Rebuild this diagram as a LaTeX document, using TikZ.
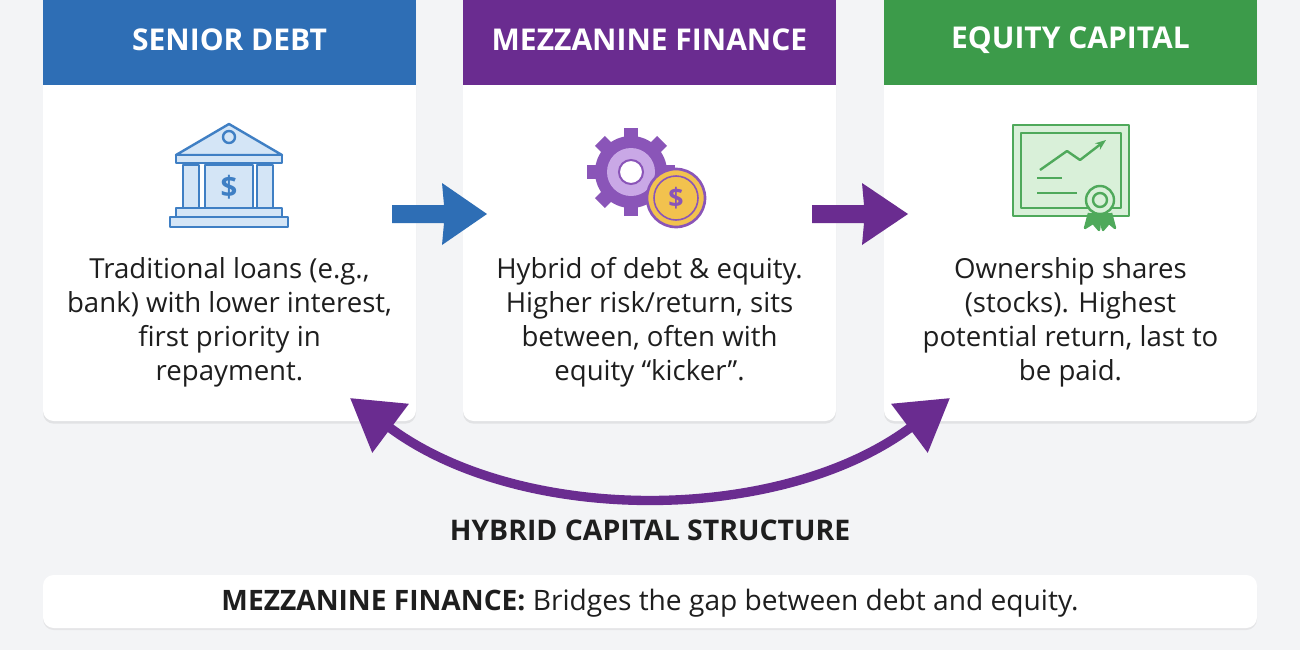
\documentclass[tikz,border=0pt]{standalone}
\usepackage{fontspec}
\setmainfont{Open Sans}
\usetikzlibrary{arrows.meta,shadows,calc}
\definecolor{bg}{HTML}{F3F4F6}
\definecolor{cblue}{HTML}{2E6EB5}
\definecolor{cpurple}{HTML}{6A2C90}
\definecolor{cgreen}{HTML}{3C9B4A}
\definecolor{iblue}{HTML}{3F7FC4}
\definecolor{ilblue}{HTML}{D4E5F6}
\definecolor{ipurple}{HTML}{8A55B8}
\definecolor{ilpur}{HTML}{C9A8E6}
\definecolor{igold}{HTML}{F2C24E}
\definecolor{igreen}{HTML}{4FA95B}
\definecolor{ilgreen}{HTML}{D9F0D9}
\definecolor{txt}{HTML}{1E1E1E}
\tikzset{
 card/.style={fill=white,rounded corners=8pt,drop shadow={opacity=0.15,shadow xshift=0pt,shadow yshift=-2pt}},
 head/.style={text=white,font=\bfseries\fontsize{22.5}{26}\selectfont},
 body/.style={text=txt,align=center,font=\fontsize{20.7}{25.5}\selectfont},
}
\begin{document}
\begin{tikzpicture}[x=0.75pt,y=-0.75pt]
\fill[bg] (0,0) rectangle (1300,650);
\useasboundingbox (0,0) rectangle (1300,650);
% cards
\foreach \x/\c/\n in {43/cblue/a,463/cpurple/b,884/cgreen/c}{
 \fill[card] (\x,-10) rectangle (\x+373,421);
 \fill[\c] (\x,-10) rectangle (\x+373,85);
}
\node[head] (ha) at (229.5,40) {SENIOR DEBT};
\node[head] (hb) at (649.5,40) {MEZZANINE FINANCE};
\node[head] (hc) at (1070.5,40) {EQUITY CAPITAL};
\node[body] (ta) at (229.5,322) {Traditional loans (e.g.,\\bank) with lower interest,\\first priority in\\repayment.};
\node[body] (tb) at (649.5,322) {Hybrid of debt \& equity.\\Higher risk/return, sits\\between, often with\\equity “kicker”.};
\node[body] (tc) at (1070.5,322) {Ownership shares\\(stocks). Highest\\potential return, last to\\be paid.};
% bank icon
\begin{scope}[draw=iblue,line width=1.8pt,line join=round]
 \filldraw[fill=ilblue] (176,155) -- (229,124) -- (282,155) -- cycle;
 \filldraw[fill=ilblue] (229,137) circle (6);
 \filldraw[fill=ilblue] (176,155) rectangle (282,163);
 \foreach \px in {183,257}{\filldraw[fill=ilblue] (\px,165) rectangle (\px+16,208);}
 \filldraw[fill=ilblue] (205,165) rectangle (253,208);
 \filldraw[fill=ilblue] (176,208) rectangle (282,217);
 \filldraw[fill=ilblue] (170,217) rectangle (288,227);
\end{scope}
\node[text=iblue,font=\bfseries\fontsize{22}{22}\selectfont] (da) at (229,187) {\$};
% gears icon
\begin{scope}
 \fill[ipurple] (631,172) circle (36);
 \foreach \a in {0,45,...,315}{\fill[ipurple,rotate around={\a:(631,172)}] (624,128) rectangle (638,142);}
 \fill[ilpur] (631,172) circle (24);
 \filldraw[draw=ipurple,fill=white,line width=1.5pt] (631,172) circle (12);
 \filldraw[draw=ipurple,fill=igold,line width=2pt] (676,198) circle (29);
 \draw[ipurple,line width=1.2pt] (676,198) circle (22);
\end{scope}
\node[text=ipurple,font=\bfseries\fontsize{20}{20}\selectfont] (db) at (676,198) {\$};
% certificate icon
\begin{scope}[draw=igreen,line width=1.8pt,line join=round]
 \filldraw[fill=ilgreen] (1013,125) rectangle (1129,216);
 \draw (1021,133) rectangle (1121,208);
 \draw (1037,193) -- (1077,193);
 \draw (1037,178) -- (1062,178);
 \draw[-{Stealth[length=8pt]}] (1040,170) -- (1067,151) -- (1080,160) -- (1106,140);
 \filldraw[fill=igreen] (1089,213) -- (1085,228) -- (1093,223) -- (1099,230) -- (1101,213);
 \filldraw[fill=igreen] (1099,213) -- (1103,230) -- (1109,223) -- (1115,228) -- (1111,213);
 \filldraw[fill=ilgreen] (1100,200) circle (14);
 \draw (1100,200) circle (7);
\end{scope}
% connector arrows
\fill[cblue] (392,205) -- (444,205) -- (442,183) -- (487,214) -- (442,245) -- (444,223) -- (392,223) -- cycle;
\fill[cpurple] (812,205) -- (864,205) -- (862,183) -- (908,214) -- (862,245) -- (864,223) -- (812,223) -- cycle;
% curved double arrow
\draw[cpurple,line width=7pt,{Triangle[length=38pt,width=44pt]}-{Triangle[length=38pt,width=44pt]}] (350,398) .. controls (520,525) and (780,525) .. (950,398);
\node[text=txt,font=\bfseries\fontsize{21.3}{22}\selectfont] (lab) at (650,530) {HYBRID CAPITAL STRUCTURE};
% bottom box
\fill[white,rounded corners=8pt,drop shadow={opacity=0.12,shadow xshift=0pt,shadow yshift=-1.5pt}] (43,575) rectangle (1257,628);
\node[text=txt,font=\fontsize{21.1}{22}\selectfont] (bot) at (650,603) {\textbf{MEZZANINE FINANCE:} Bridges the gap between debt and equity.};
\end{tikzpicture}
\end{document}
